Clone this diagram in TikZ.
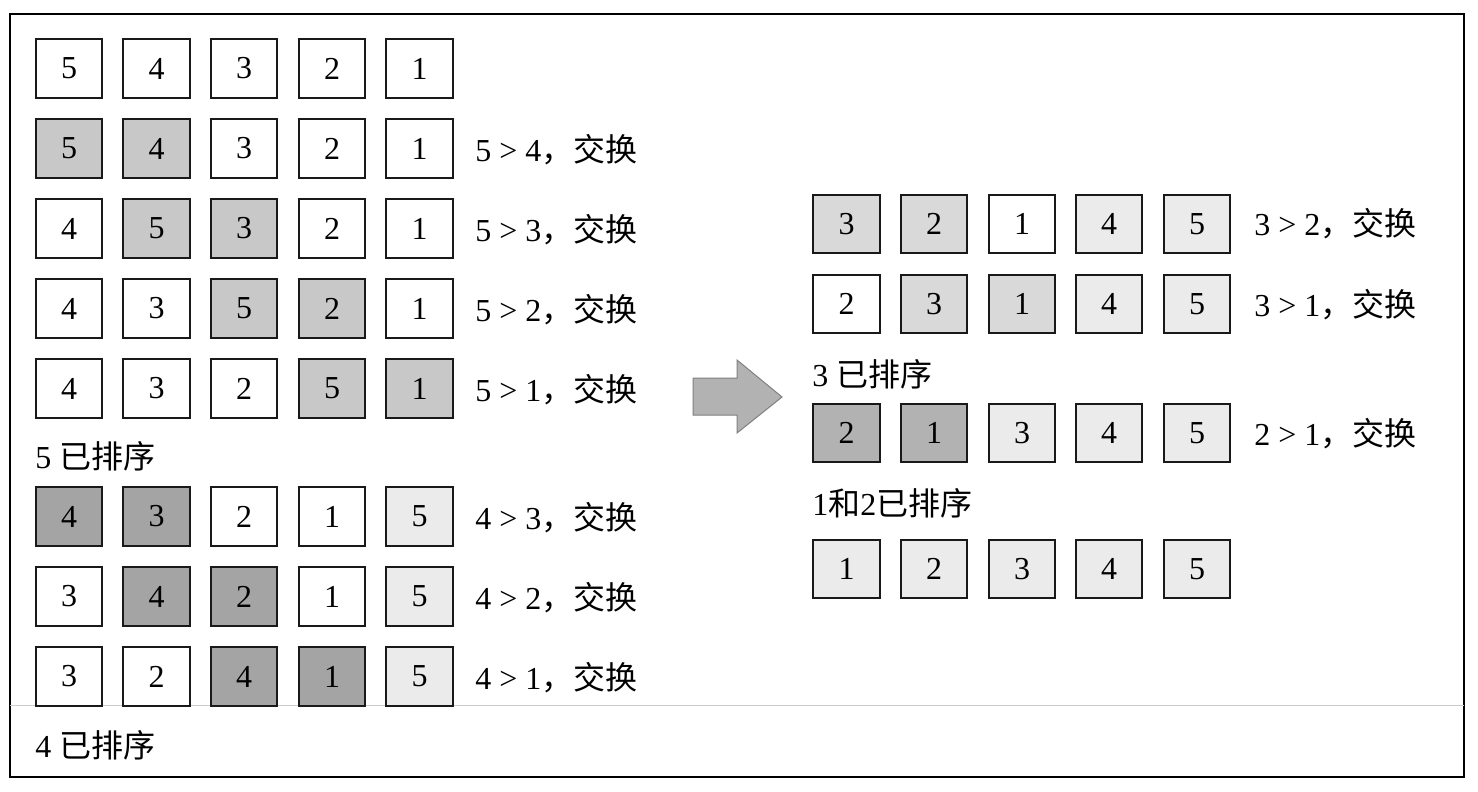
\documentclass[tikz,border=0pt]{standalone}
\usepackage{fontspec}
\setmainfont{Liberation Serif}
\newfontfamily\cjk{Noto Sans CJK SC}
\def\swapped{{\cjk ，交换}}
\def\sorted{{\cjk 已排序}}
\definecolor{passA}{RGB}{200,200,200}
\definecolor{passB}{RGB}{164,164,164}
\definecolor{passC}{RGB}{217,217,217}
\definecolor{passD}{RGB}{178,178,178}
\definecolor{done}{RGB}{235,235,235}

\begin{document}
\begin{tikzpicture}[x=0.75pt,y=0.75pt,yscale=-1,xscale=1,
  cell/.style={draw=black!90,line width=1.5pt,minimum width=50pt,minimum height=44pt,inner sep=0pt,font=\fontsize{24}{25}\selectfont},
  note/.style={anchor=west,inner sep=0pt,font=\fontsize{24}{25}\selectfont}]
\useasboundingbox (0,0) rectangle (1478,792);
\fill [white] (0,0) rectangle (1478,792);
\draw [line width=1.5pt] (10,14) rectangle (1464,777);
\draw [gray!40,line width=0.75pt] (10,705) -- (1464,705);
% first pass
\node [cell] (r1c1) at (69,68.5) {5};
\node [cell] (r1c2) at (156.5,68.5) {4};
\node [cell] (r1c3) at (244,68.5) {3};
\node [cell] (r1c4) at (332,68.5) {2};
\node [cell] (r1c5) at (419.5,68.5) {1};
\node [cell,fill=passA] (r2c1) at (69,148.5) {5};
\node [cell,fill=passA] (r2c2) at (156.5,148.5) {4};
\node [cell] (r2c3) at (244,148.5) {3};
\node [cell] (r2c4) at (332,148.5) {2};
\node [cell] (r2c5) at (419.5,148.5) {1};
\node [note] (r2n) at (475,150) {5 > 4\swapped};
\node [cell] (r3c1) at (69,228.5) {4};
\node [cell,fill=passA] (r3c2) at (156.5,228.5) {5};
\node [cell,fill=passA] (r3c3) at (244,228.5) {3};
\node [cell] (r3c4) at (332,228.5) {2};
\node [cell] (r3c5) at (419.5,228.5) {1};
\node [note] (r3n) at (475,230) {5 > 3\swapped};
\node [cell] (r4c1) at (69,308.5) {4};
\node [cell] (r4c2) at (156.5,308.5) {3};
\node [cell,fill=passA] (r4c3) at (244,308.5) {5};
\node [cell,fill=passA] (r4c4) at (332,308.5) {2};
\node [cell] (r4c5) at (419.5,308.5) {1};
\node [note] (r4n) at (475,310) {5 > 2\swapped};
\node [cell] (r5c1) at (69,388.5) {4};
\node [cell] (r5c2) at (156.5,388.5) {3};
\node [cell] (r5c3) at (244,388.5) {2};
\node [cell,fill=passA] (r5c4) at (332,388.5) {5};
\node [cell,fill=passA] (r5c5) at (419.5,388.5) {1};
\node [note] (r5n) at (475,390) {5 > 1\swapped};
\node [note] (s5) at (35,456) {5 \sorted};
% second pass
\node [cell,fill=passB] (r6c1) at (69,516.5) {4};
\node [cell,fill=passB] (r6c2) at (156.5,516.5) {3};
\node [cell] (r6c3) at (244,516.5) {2};
\node [cell] (r6c4) at (332,516.5) {1};
\node [cell,fill=done] (r6c5) at (419.5,516.5) {5};
\node [note] (r6n) at (475,518) {4 > 3\swapped};
\node [cell] (r7c1) at (69,596.5) {3};
\node [cell,fill=passB] (r7c2) at (156.5,596.5) {4};
\node [cell,fill=passB] (r7c3) at (244,596.5) {2};
\node [cell] (r7c4) at (332,596.5) {1};
\node [cell,fill=done] (r7c5) at (419.5,596.5) {5};
\node [note] (r7n) at (475,598) {4 > 2\swapped};
\node [cell] (r8c1) at (69,676.5) {3};
\node [cell] (r8c2) at (156.5,676.5) {2};
\node [cell,fill=passB] (r8c3) at (244,676.5) {4};
\node [cell,fill=passB] (r8c4) at (332,676.5) {1};
\node [cell,fill=done] (r8c5) at (419.5,676.5) {5};
\node [note] (r8n) at (475,678) {4 > 1\swapped};
\node [note] (s4) at (35,745) {4 \sorted};
% arrow
\draw [fill=black!30,draw=black!50,line width=0.75pt] (693,378) -- (737,378) -- (737,360) -- (782,397) -- (737,433) -- (737,415) -- (693,415) -- cycle;
% third pass
\node [cell,fill=passC] (rAc1) at (846.5,224) {3};
\node [cell,fill=passC] (rAc2) at (934,224) {2};
\node [cell] (rAc3) at (1022,224) {1};
\node [cell,fill=done] (rAc4) at (1109,224) {4};
\node [cell,fill=done] (rAc5) at (1197,224) {5};
\node [note] (rAn) at (1254,224) {3 > 2\swapped};
\node [cell] (rBc1) at (846.5,304) {2};
\node [cell,fill=passC] (rBc2) at (934,304) {3};
\node [cell,fill=passC] (rBc3) at (1022,304) {1};
\node [cell,fill=done] (rBc4) at (1109,304) {4};
\node [cell,fill=done] (rBc5) at (1197,304) {5};
\node [note] (rBn) at (1254,305) {3 > 1\swapped};
\node [note] (s3) at (812,374) {3 \sorted};
% fourth pass
\node [cell,fill=passD] (rCc1) at (846.5,433) {2};
\node [cell,fill=passD] (rCc2) at (934,433) {1};
\node [cell,fill=done] (rCc3) at (1022,433) {3};
\node [cell,fill=done] (rCc4) at (1109,433) {4};
\node [cell,fill=done] (rCc5) at (1197,433) {5};
\node [note] (rCn) at (1254,434) {2 > 1\swapped};
\node [note] (s12) at (812,503) {1{\cjk 和}2\sorted};
\node [cell,fill=done] (rDc1) at (846.5,569) {1};
\node [cell,fill=done] (rDc2) at (934,569) {2};
\node [cell,fill=done] (rDc3) at (1022,569) {3};
\node [cell,fill=done] (rDc4) at (1109,569) {4};
\node [cell,fill=done] (rDc5) at (1197,569) {5};
\end{tikzpicture}
\end{document}
